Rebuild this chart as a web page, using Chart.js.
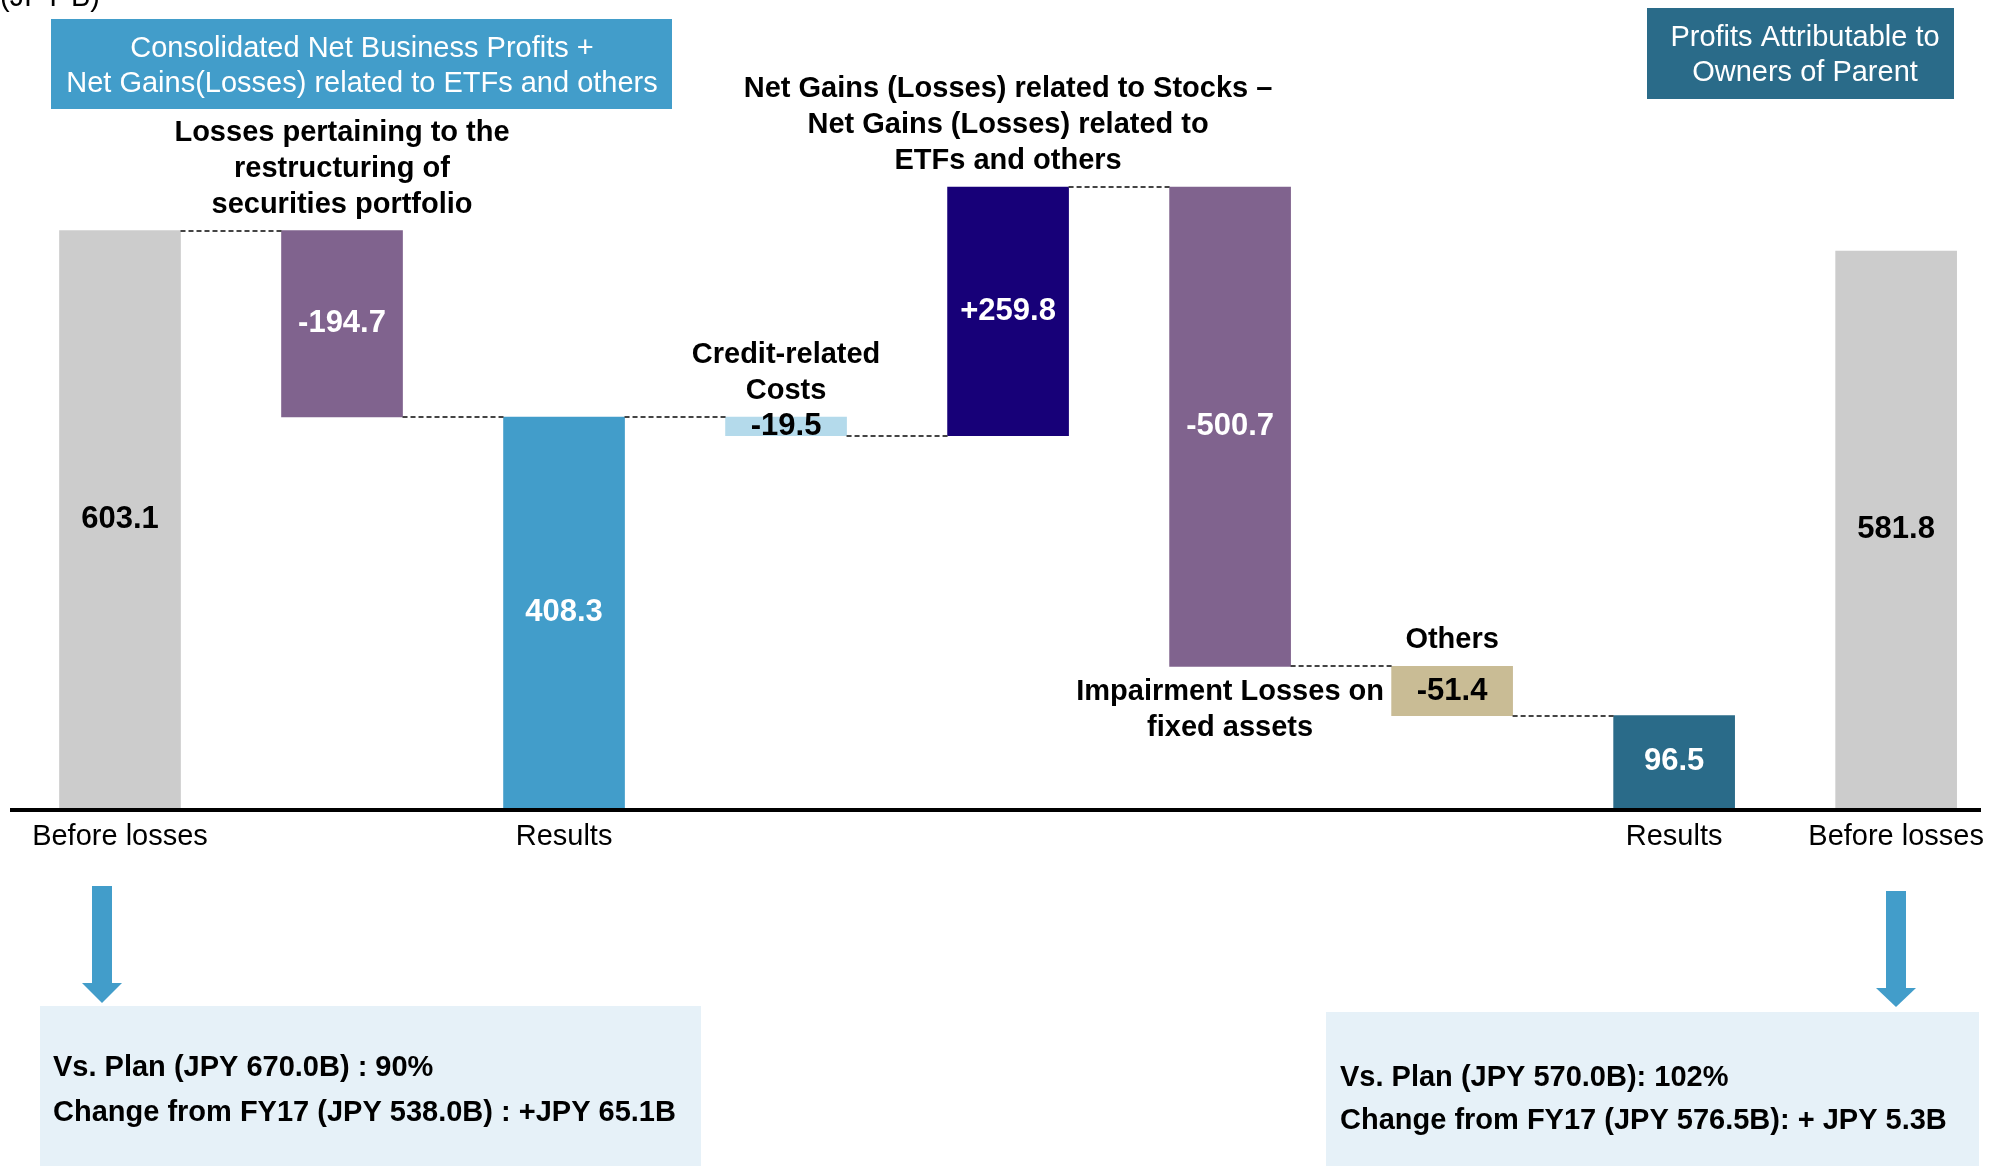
<!DOCTYPE html>
<html>
<head>
<meta charset="utf-8">
<title>Profits waterfall</title>
<script src="https://cdn.jsdelivr.net/npm/chart.js@4"></script>
<style>
  body { margin: 0; background: #fff; }
  #wrap { position: relative; width: 1996px; height: 1166px; }
</style>
</head>
<body>
<div id="wrap"><canvas id="waterfall" width="1996" height="1166"></canvas></div>
<script>
// JPY billions, left to right
const categories = ['Before losses', '', 'Results', '', '', '', '', 'Results', 'Before losses'];
const amounts = [603.1, -194.7, 408.3, -19.5, 259.8, -500.7, -51.4, 96.5, 581.8];
const isTotal = [true, false, true, false, false, false, false, true, true];
const stepTitles = [
  [],
  ['Losses pertaining to the', 'restructuring of', 'securities portfolio'],
  [],
  ['Credit-related', 'Costs'],
  ['Net Gains (Losses) related to Stocks \u2013', 'Net Gains (Losses) related to', 'ETFs and others'],
  ['Impairment Losses on', 'fixed assets'],
  ['Others'],
  [],
  []
];
const leftHeader = ['Consolidated Net Business Profits +', 'Net Gains(Losses) related to ETFs and others'];
const rightHeader = ['Profits Attributable to', 'Owners of Parent'];
const leftNotes = ['Vs. Plan (JPY 670.0B) : 90%', 'Change from FY17 (JPY 538.0B) : +JPY 65.1B'];
const rightNotes = ['Vs. Plan (JPY 570.0B): 102%', 'Change from FY17 (JPY 576.5B): + JPY 5.3B'];
const unitLabel = '(JPY B)';

// build floating [from, to] ranges for the waterfall
const ranges = [];
const ends = [];
let level = 0;
amounts.forEach((v, i) => {
  if (isTotal[i]) {
    ranges.push([0, v]);
    level = v;
  } else {
    ranges.push([level, level + v]);
    level += v;
  }
  ends.push(level);
});

const valueText = amounts.map((v, i) =>
  (!isTotal[i] && v > 0 ? '+' : '') + v.toFixed(1));

const barColors = ['#CCCCCC', '#80638E', '#429DCA', '#B4DAEB', '#170078', '#80638E', '#C9BC95', '#2A6B89', '#CCCCCC'];
const darkText = ['#CCCCCC', '#B4DAEB', '#C9BC95'];
const FONT = '"Liberation Sans", Arial, sans-serif';

function lines(ctx, list, x, yFirst, step) {
  list.forEach((t, k) => ctx.fillText(t, x, yFirst + k * step));
}

const waterfallDecor = {
  id: 'waterfallDecor',
  afterDraw(chart) {
    const { ctx, scales: { y } } = chart;
    const bars = chart.getDatasetMeta(0).data;
    ctx.save();

    // axis line across the full width
    ctx.fillStyle = '#000';
    ctx.fillRect(10, chart.chartArea.bottom, 1971, 4);

    // dashed connectors between consecutive bars
    ctx.setLineDash([5, 3]);
    ctx.lineWidth = 2;
    ctx.strokeStyle = '#444';
    for (let i = 0; i < bars.length - 1; i++) {
      const next = i + 1;
      if (isTotal[next] && Math.abs(amounts[next] - ends[i]) > 0.5) continue;
      const yy = Math.round(y.getPixelForValue(ends[i]));
      ctx.beginPath();
      ctx.moveTo(bars[i].x + bars[i].width / 2, yy);
      ctx.lineTo(bars[next].x - bars[next].width / 2, yy);
      ctx.stroke();
    }
    ctx.setLineDash([]);

    // value labels inside bars
    ctx.textAlign = 'center';
    ctx.textBaseline = 'middle';
    ctx.font = 'bold 31px ' + FONT;
    bars.forEach((b, i) => {
      ctx.fillStyle = darkText.includes(barColors[i]) ? '#000' : '#fff';
      ctx.fillText(valueText[i], b.x, (b.y + b.base) / 2);
    });

    // step titles: above the bar, except the big drop which is labelled underneath
    ctx.fillStyle = '#000';
    ctx.font = 'bold 29px ' + FONT;
    bars.forEach((b, i) => {
      const t = stepTitles[i];
      if (!t.length) return;
      const top = Math.min(b.y, b.base);
      const bottom = Math.max(b.y, b.base);
      if (i === 5) {
        lines(ctx, t, b.x, bottom + 26, 36);
      } else {
        lines(ctx, t, b.x, top - 26 - (t.length - 1) * 36, 36);
      }
    });

    // unit
    ctx.textAlign = 'left';
    ctx.textBaseline = 'alphabetic';
    ctx.font = '29px ' + FONT;
    ctx.fillText(unitLabel, 0, 6);

    // header boxes
    ctx.textAlign = 'center';
    ctx.textBaseline = 'middle';
    ctx.fillStyle = '#429DCA';
    ctx.fillRect(51, 19, 621, 90);
    ctx.fillStyle = '#2A6B89';
    ctx.fillRect(1647, 8, 307, 91);
    ctx.fillStyle = '#fff';
    ctx.font = '29px ' + FONT;
    lines(ctx, leftHeader, 362, 49, 35);
    lines(ctx, rightHeader, 1805, 38, 35);

    // arrows down to the note boxes
    ctx.fillStyle = '#429DCA';
    [[102, 886, 983, 1003], [1896, 891, 988, 1007]].forEach(([cx, top, neck, tip]) => {
      ctx.fillRect(cx - 10, top, 20, neck - top);
      ctx.beginPath();
      ctx.moveTo(cx - 20, neck);
      ctx.lineTo(cx + 20, neck);
      ctx.lineTo(cx, tip);
      ctx.closePath();
      ctx.fill();
    });

    // note boxes
    ctx.fillStyle = '#E6F1F8';
    ctx.fillRect(40, 1006, 661, 160);
    ctx.fillRect(1326, 1012, 653, 154);
    ctx.fillStyle = '#000';
    ctx.textAlign = 'left';
    ctx.font = 'bold 29px ' + FONT;
    lines(ctx, leftNotes, 53, 1068, 45);
    lines(ctx, rightNotes, 1340, 1078, 43);

    ctx.restore();
  }
};

Chart.defaults.font.family = FONT;

new Chart(document.getElementById('waterfall').getContext('2d'), {
  type: 'bar',
  data: {
    labels: categories,
    datasets: [{
      data: ranges,
      backgroundColor: barColors,
      borderWidth: 0,
      barThickness: 121,
      clip: false
    }]
  },
  options: {
    responsive: false,
    animation: false,
    layout: { padding: { left: 120, right: 91, top: 0, bottom: 308 } },
    plugins: {
      legend: { display: false },
      tooltip: { enabled: false }
    },
    scales: {
      x: {
        offset: false,
        grid: { display: false, drawTicks: false },
        border: { display: false },
        ticks: {
          color: '#000',
          font: { size: 29 },
          padding: 12,
          maxRotation: 0,
          autoSkip: false
        },
        afterFit(scale) { scale.height = 50; }
      },
      y: { display: false, min: 0, max: 844 }
    }
  },
  plugins: [waterfallDecor]
});
</script>
</body>
</html>
